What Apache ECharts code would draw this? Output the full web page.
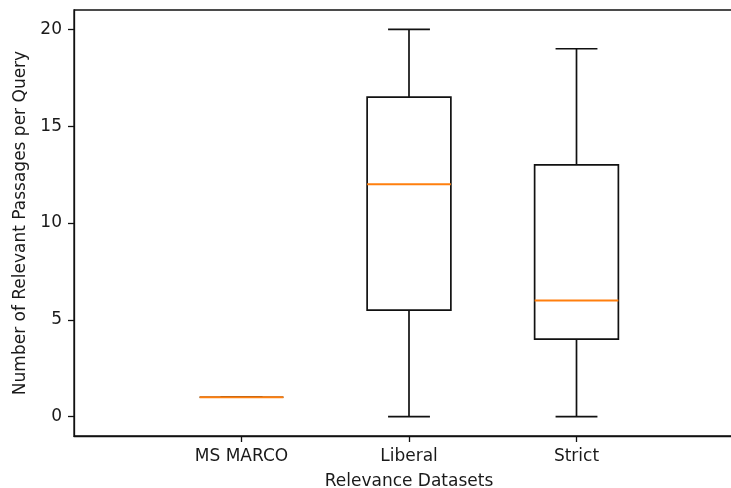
<!DOCTYPE html>
<html>
<head>
<meta charset="utf-8">
<script src="https://cdn.jsdelivr.net/npm/echarts@6/dist/echarts.min.js"></script>
<style>
  html, body { margin: 0; padding: 0; background: #fff; }
  #chart { width: 731px; height: 488px; }
</style>
</head>
<body>
<div id="chart"></div>
<script>
// Box statistics per dataset (positions 1..3 on the x axis)
const categories = ['MS MARCO', 'Liberal', 'Strict'];
const positions = [1, 2, 3];
const whiskerLow = [1, 0, 0];
const q1 = [1, 5.5, 4];
const median = [1, 12, 6];
const q3 = [1, 16.5, 13];
const whiskerHigh = [1, 20, 19];
const yTicks = [0, 5, 10, 15, 20];

const BOX_WIDTH = 0.5;   // in x-axis units
const CAP_WIDTH = 0.25;

const rows = positions.map((p, i) => [p, whiskerLow[i], q1[i], median[i], q3[i], whiskerHigh[i]]);

const FONT = 'DejaVu Sans';
const TEXT = '#1a1a1a';
const LINE = '#111';
const MED = '#ff7f0e';
const LW = 1.7;

function renderBox(params, api) {
  const x = api.value(0);
  const lo = api.value(1), a = api.value(2), m = api.value(3), b = api.value(4), hi = api.value(5);
  const halfBox = BOX_WIDTH / 2, halfCap = CAP_WIDTH / 2;
  const pLoL = api.coord([x - halfCap, lo]), pLoR = api.coord([x + halfCap, lo]);
  const pHiL = api.coord([x - halfCap, hi]), pHiR = api.coord([x + halfCap, hi]);
  const bl = api.coord([x - halfBox, a]), tr = api.coord([x + halfBox, b]);
  const c1 = api.coord([x, a]), c0 = api.coord([x, lo]);
  const c3 = api.coord([x, b]), c4 = api.coord([x, hi]);
  const mL = api.coord([x - halfBox, m]), mR = api.coord([x + halfBox, m]);
  const stroke = { stroke: LINE, lineWidth: LW, fill: null };
  const children = [
    { type: 'line', shape: { x1: c0[0], y1: c0[1], x2: c1[0], y2: c1[1] }, style: stroke },
    { type: 'line', shape: { x1: c3[0], y1: c3[1], x2: c4[0], y2: c4[1] }, style: stroke },
    { type: 'line', shape: { x1: pLoL[0], y1: pLoL[1], x2: pLoR[0], y2: pLoR[1] }, style: stroke },
    { type: 'line', shape: { x1: pHiL[0], y1: pHiL[1], x2: pHiR[0], y2: pHiR[1] }, style: stroke },
    { type: 'rect', shape: { x: bl[0], y: tr[1], width: tr[0] - bl[0], height: bl[1] - tr[1] }, style: stroke },
    { type: 'line', shape: { x1: mL[0], y1: mL[1], x2: mR[0], y2: mR[1] }, style: { stroke: MED, lineWidth: 2.1 } }
  ];
  return { type: 'group', children: children };
}

const chart = echarts.init(document.getElementById('chart'), null, { renderer: 'canvas' });
chart.setOption({
  animation: false,
  backgroundColor: '#fff',
  grid: {
    left: 74, top: 10, width: 670, height: 426,
    outerBoundsMode: 'none', containLabel: false,
    show: true, borderColor: '#111', borderWidth: 1.3, backgroundColor: 'transparent'
  },
  xAxis: {
    type: 'value', min: 0, max: 4,
    name: 'Relevance Datasets', nameLocation: 'middle', nameGap: 37,
    nameTextStyle: { fontFamily: FONT, fontSize: 17, color: TEXT },
    axisLine: { show: true, onZero: false, lineStyle: { color: '#111', width: 1.3 } },
    axisTick: { show: true, length: 6, customValues: positions, lineStyle: { color: '#111', width: 1.3 } },
    axisLabel: {
      customValues: positions, margin: 12,
      fontFamily: FONT, fontSize: 17, color: TEXT,
      formatter: v => categories[positions.indexOf(v)] || ''
    },
    splitLine: { show: false }
  },
  yAxis: {
    type: 'value', min: -1, max: 21,
    name: 'Number of Relevant Passages per Query', nameLocation: 'middle', nameGap: 44, nameRotate: 90,
    nameTextStyle: { fontFamily: FONT, fontSize: 17, color: TEXT },
    axisLine: { show: true, onZero: false, lineStyle: { color: '#111', width: 1.3 } },
    axisTick: { show: true, length: 6, customValues: yTicks, lineStyle: { color: '#111', width: 1.3 } },
    axisLabel: { customValues: yTicks, margin: 12, fontFamily: FONT, fontSize: 17, color: TEXT },
    splitLine: { show: false }
  },
  series: [{
    type: 'custom',
    renderItem: renderBox,
    encode: { x: 0, y: [1, 2, 3, 4, 5] },
    data: rows,
    clip: false
  }]
});
</script>
</body>
</html>
